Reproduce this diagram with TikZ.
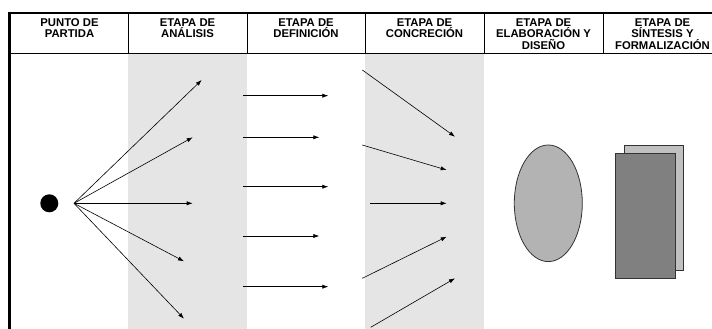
\documentclass[tikz,border=0pt]{standalone}
\usepackage{fontspec}
\setmainfont{Liberation Sans}
\usetikzlibrary{arrows.meta}
\definecolor{bandgray}{HTML}{E5E5E5}
\definecolor{ovalgray}{HTML}{B3B3B3}
\definecolor{backgray}{HTML}{C0C0C0}
\definecolor{frontgray}{HTML}{808080}
\definecolor{edgegray}{HTML}{333333}
\begin{document}
\begin{tikzpicture}[x=1pt,y=-1pt,
  head/.style={anchor=north,align=center,inner sep=0pt,font=\fontsize{11.3}{11.4}\selectfont\bfseries},
  conn/.style={-{Latex[length=6pt,width=4.2pt]},line width=0.6pt},
  band/.style={fill=bandgray},
  rule/.style={line width=1pt}]
\useasboundingbox (0,0) rectangle (712,329);
% shaded columns
\fill[band] (128,54) rectangle (247,329);
\fill[band] (365,54) rectangle (484,329);
% table lines
\draw[line width=2.5pt] (8,13) -- (712,13);
\draw[line width=3pt] (9.5,11.75) -- (9.5,329);
\draw[rule] (11,53.5) -- (712,53.5);
\foreach \x in {128,247,365,484,603} \draw[rule] (\x,13) -- (\x,53.5);
% headers
\node[head] (h1) at (69.5,18.3) {PUNTO DE\\PARTIDA};
\node[head] (h2) at (187.5,18.3) {ETAPA DE\\ANÁLISIS};
\node[head] (h3) at (306,18.3) {ETAPA DE\\DEFINICIÓN};
\node[head] (h4) at (424.5,18.3) {ETAPA DE\\CONCRECIÓN};
\node[head] (h5) at (543.5,18.3) {ETAPA DE\\ELABORACIÓN Y\\DISEÑO};
\node[head] (h6) at (662.5,18.3) {ETAPA DE\\SÍNTESIS Y\\FORMALIZACIÓN};
% starting point
\node[circle,fill=black,minimum size=18pt,inner sep=0pt] (dot) at (49.3,203.3) {};
\coordinate (o) at (74,203.3);
\coordinate (a1) at (201.7,80);
\coordinate (a2) at (192.7,137.3);
\coordinate (a3) at (192.7,203.3);
\coordinate (a4) at (184,261.3);
\coordinate (a5) at (184,318.7);
\foreach \i in {1,...,5} \draw[conn] (o) -- (a\i);
% definition arrows
\coordinate (d1s) at (243.3,95.7);  \coordinate (d1e) at (328.3,95.7);
\coordinate (d2s) at (243.3,137.3); \coordinate (d2e) at (319.3,137.3);
\coordinate (d3s) at (243.3,186.7); \coordinate (d3e) at (328.3,186.7);
\coordinate (d4s) at (243.3,236);   \coordinate (d4e) at (319.3,236);
\coordinate (d5s) at (243.3,286.7); \coordinate (d5e) at (328.3,286.7);
\foreach \i in {1,...,5} \draw[conn] (d\i s) -- (d\i e);
% concretion arrows
\coordinate (c1s) at (362.3,70);    \coordinate (c1e) at (455,136.7);
\coordinate (c2s) at (362.3,145);   \coordinate (c2e) at (446.7,170);
\coordinate (c3s) at (370,203.3);   \coordinate (c3e) at (446.7,203.3);
\coordinate (c4s) at (362.3,278.3); \coordinate (c4e) at (446.7,236.7);
\coordinate (c5s) at (370.7,327.3); \coordinate (c5e) at (455,278.3);
\foreach \i in {1,...,5} \draw[conn] (c\i s) -- (c\i e);
% elaboration: oval
\draw[fill=ovalgray,draw=edgegray,line width=0.8pt] (548.3,203.3) ellipse [x radius=34pt,y radius=58.3pt];
% synthesis: stacked sheets
\draw[fill=backgray,draw=edgegray,line width=0.8pt] (624,145) rectangle (683.7,270.7);
\draw[fill=frontgray,draw=edgegray,line width=0.8pt] (615.7,153.3) rectangle (675.3,278.7);
\end{tikzpicture}
\end{document}
